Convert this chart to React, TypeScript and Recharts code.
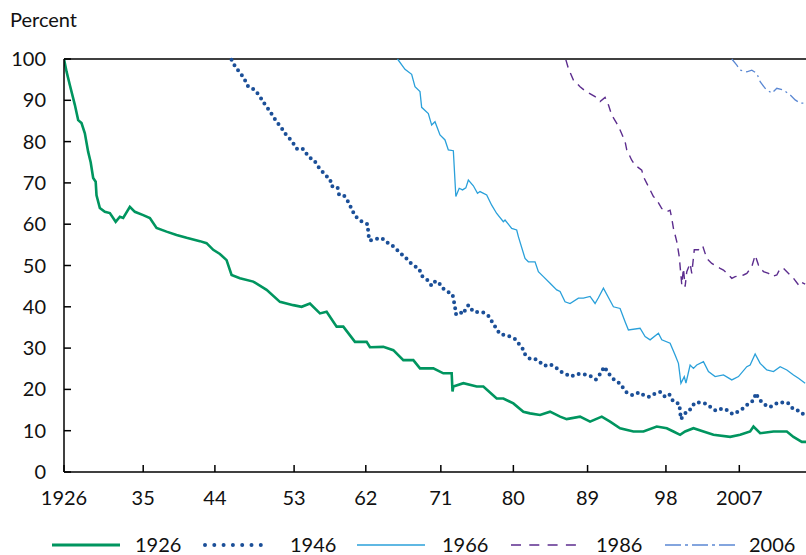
import React from "react";
import { LineChart, Line, XAxis, YAxis, ReferenceLine } from "recharts";

// ---- data (year, percent) ----
const s1926: [number, number][] = [
  [1926.0, 100], [1926.3, 97], [1926.7, 93.7], [1927.3, 88.9], [1927.7, 85.2], [1928.1, 84.5],
  [1928.5, 82], [1928.9, 77.5], [1929.2, 75], [1929.5, 71.2], [1929.8, 70.3], [1929.9, 67],
  [1930.3, 63.9], [1930.9, 63], [1931.5, 62.7], [1932.2, 60.6], [1932.7, 61.8], [1933.1, 61.5],
  [1933.9, 64.2], [1934.5, 63], [1935.5, 62.2], [1936.3, 61.5], [1937.1, 59.1], [1938.3, 58.2],
  [1939.5, 57.4], [1940.7, 56.7], [1942.3, 55.9], [1943.1, 55.4], [1943.9, 53.8], [1944.7, 52.8],
  [1945.5, 51.3], [1946.1, 47.7], [1947.1, 46.9], [1948.7, 46.1], [1950.3, 44.1], [1951.9, 41.2],
  [1953.5, 40.4], [1954.5, 40], [1955.5, 40.8], [1956.7, 38.4], [1957.5, 38.8], [1958.7, 35.2],
  [1959.5, 35.2], [1960.9, 31.5], [1962.3, 31.5], [1962.7, 30.2], [1964.3, 30.3], [1965.5, 29.5],
  [1966.7, 27.1], [1967.9, 27.1], [1968.7, 25.1], [1970.3, 25.1], [1971.5, 23.9], [1972.5, 23.9],
  [1972.6, 19.5], [1972.7, 20.7], [1973.9, 21.5], [1975.5, 20.7], [1976.3, 20.7], [1977.9, 17.8],
  [1978.7, 17.8], [1979.9, 16.6], [1981.1, 14.6], [1981.9, 14.2], [1983.1, 13.8], [1984.3, 14.6],
  [1985.5, 13.4], [1986.3, 12.8], [1987.9, 13.4], [1989.1, 12.2], [1990.5, 13.4], [1991.5, 12.2],
  [1992.7, 10.6], [1994.3, 9.8], [1995.5, 9.8], [1997.1, 11], [1998.3, 10.6], [1999.1, 9.8],
  [1999.9, 9], [2000.5, 9.8], [2001.5, 10.6], [2002.7, 9.8], [2003.9, 9], [2005.9, 8.5],
  [2007.1, 9], [2008.3, 9.8], [2008.7, 11], [2009.5, 9.4], [2011.1, 9.8], [2012.7, 9.8],
  [2013.5, 8.5], [2014.5, 7.3], [2015.0, 7.3],
];

const s1946: [number, number][] = [
  [1946.1, 99.8], [1946.6, 97.9], [1947.2, 96.5], [1947.7, 94.9], [1948.1, 93.3], [1948.9, 92.5],
  [1949.5, 90.9], [1950.0, 89.3], [1950.5, 87.9], [1951.0, 86.4], [1951.5, 84.8], [1952.0, 83.6],
  [1952.5, 82], [1953.0, 80.9], [1953.5, 79.6], [1954.0, 78.1], [1954.7, 78.2], [1955.0, 77.3],
  [1955.4, 76.2], [1956.0, 75.5], [1956.5, 73.9], [1957.0, 72.7], [1957.4, 71.7], [1957.9, 71.1],
  [1958.1, 69.2], [1958.8, 69], [1959.0, 67.1], [1959.6, 66.9], [1960.1, 65.4], [1960.5, 63.7],
  [1960.9, 62], [1961.6, 60.8], [1962.4, 60], [1962.6, 56.1], [1963.2, 56.2], [1963.9, 56.7],
  [1964.3, 56.4], [1965.0, 55.2], [1965.7, 54.4], [1966.2, 53.2], [1966.9, 52.1], [1967.4, 50.9],
  [1968.0, 49.9], [1968.6, 49.2], [1968.9, 47.5], [1969.5, 46.7], [1970.1, 45.1], [1970.5, 46.1],
  [1970.9, 46.1], [1971.3, 44.7], [1971.9, 43.8], [1972.6, 43], [1972.9, 40], [1973.0, 38.2],
  [1973.5, 38.8], [1973.8, 38.2], [1974.5, 40.4], [1975.1, 38.8], [1975.7, 38.7], [1976.3, 38.6],
  [1976.9, 37.8], [1977.4, 36.2], [1977.9, 34.6], [1978.3, 33.4], [1978.8, 33.2], [1979.5, 32.8],
  [1980.1, 32.2], [1980.5, 31.2], [1981.0, 29.9], [1981.3, 28.5], [1981.8, 27.5], [1982.4, 27.5],
  [1983.0, 26.7], [1983.6, 25.7], [1984.3, 26.1], [1985.0, 25.3], [1985.6, 24.3], [1986.2, 23.7],
  [1986.8, 23.1], [1987.5, 23.7], [1988.2, 23.7], [1988.8, 23.5], [1989.3, 23.1], [1989.8, 22.4],
  [1990.4, 24], [1990.8, 25.5], [1991.3, 23.9], [1991.9, 22.5], [1992.3, 22.1], [1992.8, 21.1],
  [1993.4, 19.4], [1994.2, 18.6], [1995.0, 19.3], [1995.6, 18.5], [1996.2, 18.2], [1997.0, 19.1],
  [1997.5, 19.4], [1998.1, 18.2], [1998.6, 18.8], [1999.1, 17], [1999.8, 16.5], [2000.0, 12.8],
  [2000.4, 14], [2000.8, 14.8], [2001.0, 14.8], [2001.4, 16.1], [2001.8, 16.9], [2002.4, 16.8],
  [2002.9, 16.6], [2003.5, 15.8], [2004.2, 14.8], [2005.0, 15.4], [2005.5, 15], [2006.2, 14],
  [2006.8, 14.6], [2007.6, 15.6], [2008.2, 16.8], [2008.7, 17.3], [2009.0, 19.1], [2009.3, 17.8],
  [2009.9, 16.5], [2010.6, 15.7], [2011.2, 16.2], [2011.6, 16.8], [2012.2, 16.8], [2012.8, 16.8],
  [2013.5, 15.2], [2014.2, 14.8], [2014.9, 13.6],
];

const s1966: [number, number][] = [
  [1966.0, 100], [1966.9, 97.5], [1967.7, 96.3], [1968.1, 93.3], [1968.7, 92.1], [1968.9, 88.3],
  [1969.7, 86.8], [1970.1, 84], [1970.5, 84.8], [1971.1, 81.6], [1971.7, 80.4], [1972.1, 78],
  [1972.7, 77.8], [1973.0, 66.7], [1973.4, 68.7], [1973.8, 68.3], [1974.2, 68.8], [1974.5, 70.7],
  [1975.1, 69.3], [1975.6, 67.5], [1975.9, 67.9], [1976.7, 67.1], [1977.3, 64.6], [1977.9, 62.6],
  [1978.7, 60.6], [1978.9, 61], [1979.7, 59], [1980.3, 58.6], [1980.5, 57], [1981.3, 51.7],
  [1981.7, 50.9], [1982.5, 50.9], [1982.9, 48.5], [1983.5, 47.3], [1984.3, 45.7], [1985.1, 44.1],
  [1985.5, 43.7], [1986.1, 41.2], [1986.7, 40.8], [1987.7, 42.1], [1988.3, 42.1], [1989.1, 42.5],
  [1989.7, 40.8], [1990.1, 42.2], [1990.7, 44.5], [1991.9, 40], [1992.7, 39.6], [1993.3, 36.4],
  [1993.7, 34.4], [1995.1, 34.8], [1995.7, 32.8], [1996.3, 32], [1997.3, 33.6], [1997.7, 32],
  [1998.7, 31.2], [1999.3, 28.3], [1999.7, 26.3], [2000.0, 21.5], [2000.4, 23.1], [2000.6, 21.5],
  [2001.1, 25.9], [2001.5, 25.1], [2001.9, 25.9], [2002.7, 26.7], [2003.3, 24.3], [2004.1, 23.1],
  [2005.1, 23.5], [2006.1, 22.3], [2006.9, 23.1], [2007.9, 25.5], [2008.3, 25.9], [2008.9, 28.6],
  [2009.5, 26.3], [2010.3, 24.7], [2011.1, 24.3], [2011.9, 25.5], [2012.7, 24.7], [2013.5, 23.5],
  [2014.1, 22.7], [2014.9, 21.5],
];

const s1986: [number, number][] = [
  [1986.2, 99.8], [1986.5, 97.7], [1987.1, 94.9], [1987.9, 93.3], [1988.5, 92.3], [1989.7, 90.9],
  [1990.3, 89.7], [1990.9, 90.7], [1991.3, 88.9], [1991.7, 86.4], [1992.3, 84.4], [1992.7, 82.8],
  [1993.3, 80], [1993.5, 78], [1994.1, 75.5], [1994.5, 74.3], [1995.3, 73.1], [1995.5, 71.5],
  [1996.1, 69.1], [1996.7, 66.7], [1997.1, 65.9], [1997.7, 63.8], [1998.3, 63], [1998.7, 63.4],
  [1998.9, 61.4], [1999.1, 59], [1999.5, 55.8], [1999.8, 52.1], [2000.1, 45.3], [2000.3, 49.3],
  [2000.5, 44.9], [2000.7, 48.5], [2001.1, 50.5], [2001.3, 48.1], [2001.6, 53.8], [2002.1, 53.8],
  [2002.6, 54.8], [2003.1, 51.7], [2003.7, 50.5], [2004.7, 49.3], [2005.1, 48.9], [2006.1, 46.9],
  [2006.5, 47.3], [2007.5, 47.7], [2007.9, 48.1], [2008.5, 49.7], [2008.9, 52.5], [2009.3, 50.1],
  [2009.9, 48.5], [2010.5, 48.1], [2010.9, 47.3], [2011.5, 47.7], [2011.9, 49.3], [2012.3, 49.3],
  [2013.1, 47.7], [2013.5, 46.9], [2014.1, 45.3], [2014.3, 46.1], [2014.9, 45.5],
];

const s2006: [number, number][] = [
  [2006.1, 100], [2006.7, 98.5], [2007.1, 97.3], [2007.9, 96.9], [2008.5, 97.3], [2009.1, 96.5],
  [2009.5, 94.5], [2010.1, 92.9], [2010.9, 91.7], [2011.5, 92.9], [2012.3, 92.5], [2013.1, 91.3],
  [2013.7, 90.1], [2014.3, 89.3], [2014.9, 89.3],
];

const seriesNames = ["1926", "1946", "1966", "1986", "2006"];
const yTicks = [0, 10, 20, 30, 40, 50, 60, 70, 80, 90, 100];
const xTicks = [1926, 1935.5, 1944.1, 1953.6, 1962.2, 1971.2, 1979.9, 1988.8, 1998.2, 2007];
const xTickLabels = ["1926", "35", "44", "53", "62", "71", "80", "89", "98", "2007"];

const toRows = (arr: [number, number][]) => arr.map(([year, value]) => ({ year, value }));

const FONT = "Lato, 'Noto Sans', sans-serif";
const FS = 20;
const TEXT = "#111";

const COLORS = ["#00955f", "#1b4f98", "#2aa0da", "#5c2d8e", "#5b88d3"];

const YTick = (props: any) => {
  const { x, y, payload } = props;
  return (
    <g>
      <line x1={x} x2={x + 7} y1={y} y2={y} stroke="#000" strokeWidth={1.5} />
      <text x={x - 18} y={y + 7} textAnchor="end" fontFamily={FONT} fontSize={FS} fill={TEXT}>
        {payload.value}
      </text>
    </g>
  );
};

const XTick = (props: any) => {
  const { x, y, payload } = props;
  const idx = xTicks.indexOf(payload.value);
  return (
    <g>
      <line x1={x} x2={x} y1={y} y2={y - 7} stroke="#000" strokeWidth={1.5} />
      <text x={x} y={y + 33} textAnchor="middle" fontFamily={FONT} fontSize={FS} fill={TEXT}>
        {idx >= 0 ? xTickLabels[idx] : ""}
      </text>
    </g>
  );
};

const legendItems = [
  { x1: 52, x2: 120, tx: 135, color: COLORS[0], width: 3, dash: undefined as string | undefined, cap: "butt" },
  { x1: 205, x2: 270, tx: 290, color: COLORS[1], width: 4, dash: "0 9.3", cap: "round" },
  { x1: 357, x2: 425, tx: 442, color: COLORS[2], width: 1.6, dash: undefined, cap: "butt" },
  { x1: 511, x2: 577, tx: 596, color: COLORS[3], width: 1.6, dash: "10 8.3", cap: "butt" },
  { x1: 665, x2: 735, tx: 749, color: COLORS[4], width: 1.6, dash: "16 4 3 4", cap: "butt" },
];

export default function App() {
  return (
    <div style={{ position: "absolute", left: 0, top: 0, width: 806, height: 555, background: "#fff" }}>
      <LineChart width={806} height={555} margin={{ top: 59, right: 0, bottom: 0, left: 0 }}>
        <XAxis
          type="number"
          dataKey="year"
          domain={[1926, 2015]}
          ticks={xTicks}
          allowDataOverflow
          height={83}
          tickSize={0}
          tickMargin={0}
          tickLine={false}
          axisLine={{ stroke: "#000", strokeWidth: 1.5 }}
          tick={<XTick />}
          interval={0}
        />
        <YAxis
          type="number"
          domain={[0, 100]}
          ticks={yTicks}
          width={64}
          tickSize={0}
          tickMargin={0}
          tickLine={false}
          axisLine={{ stroke: "#000", strokeWidth: 1.5 }}
          tick={<YTick />}
          interval={0}
        />
        <ReferenceLine y={100} stroke="#000" strokeWidth={1.5} />
        <Line data={toRows(s1926)} dataKey="value" name={seriesNames[0]} type="linear" stroke={COLORS[0]}
          strokeWidth={2.6} dot={false} isAnimationActive={false} />
        <Line data={toRows(s1946)} dataKey="value" name={seriesNames[1]} type="linear" stroke={COLORS[1]}
          strokeWidth={4} strokeDasharray="0 6.2" strokeLinecap="round" dot={false} isAnimationActive={false} />
        <Line data={toRows(s1966)} dataKey="value" name={seriesNames[2]} type="linear" stroke={COLORS[2]}
          strokeWidth={1.3} dot={false} isAnimationActive={false} />
        <Line data={toRows(s1986)} dataKey="value" name={seriesNames[3]} type="linear" stroke={COLORS[3]}
          strokeWidth={1.4} strokeDasharray="8 6" dot={false} isAnimationActive={false} />
        <Line data={toRows(s2006)} dataKey="value" name={seriesNames[4]} type="linear" stroke={COLORS[4]}
          strokeWidth={1.3} strokeDasharray="10 4 2 4" dot={false} isAnimationActive={false} />
      </LineChart>
      <svg width={806} height={555} style={{ position: "absolute", left: 0, top: 0, pointerEvents: "none" }}>
        <text x={10} y={27} fontFamily={FONT} fontSize={FS} fill={TEXT}>Percent</text>
        {legendItems.map((it, i) => (
          <g key={seriesNames[i]}>
            <line x1={it.x1} x2={it.x2} y1={545} y2={545} stroke={it.color} strokeWidth={it.width}
              strokeDasharray={it.dash} strokeLinecap={it.cap as any} />
            <text x={it.tx} y={552} fontFamily={FONT} fontSize={FS} fill={TEXT}>{seriesNames[i]}</text>
          </g>
        ))}
      </svg>
    </div>
  );
}
